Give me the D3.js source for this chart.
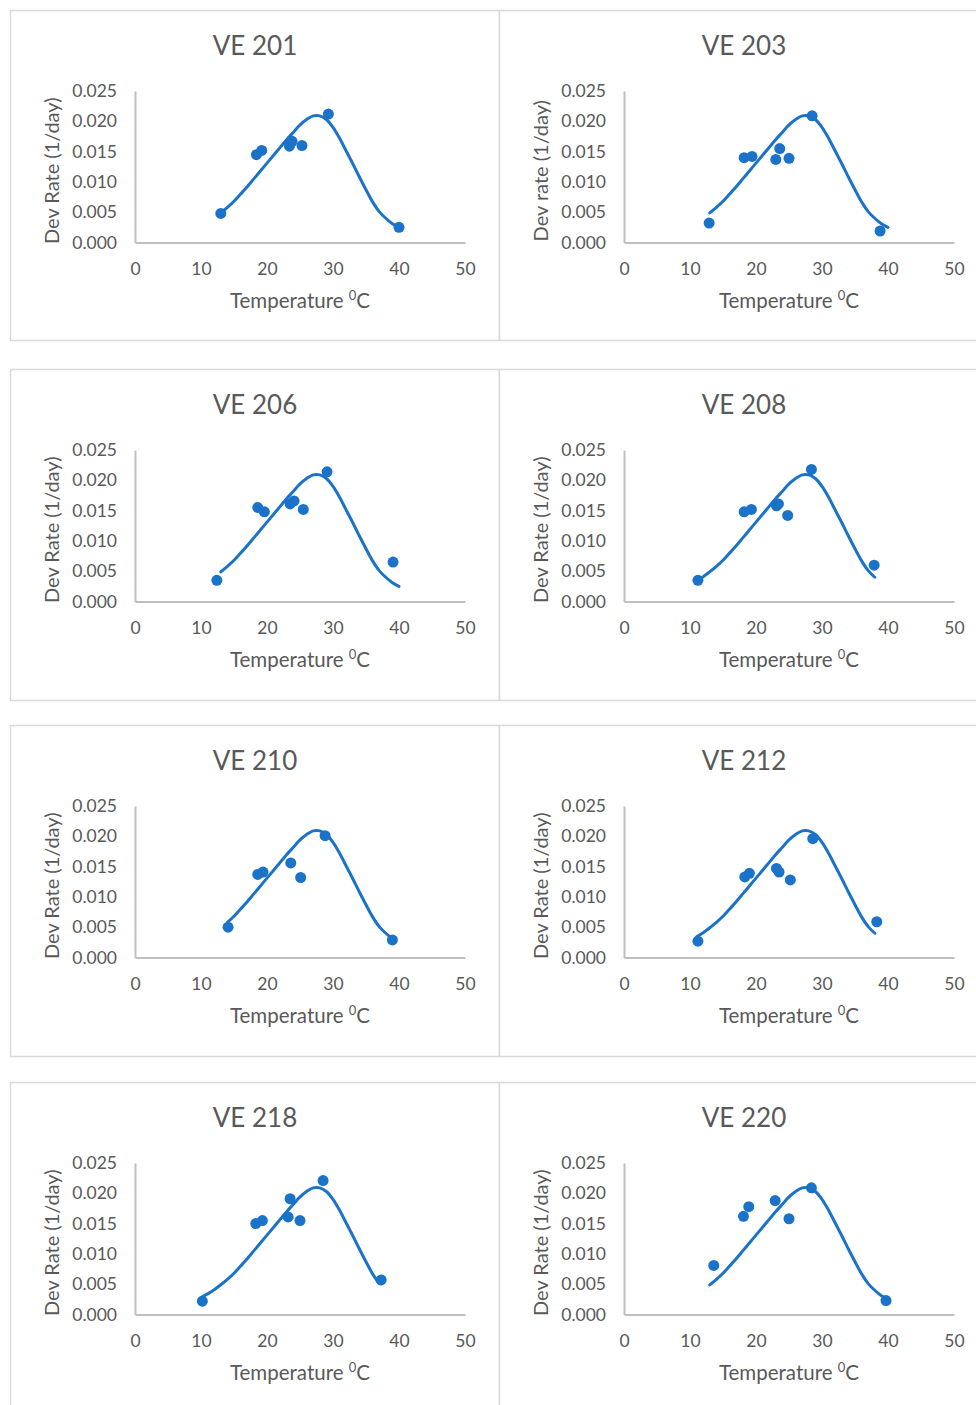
<!DOCTYPE html>
<html>
<head>
<meta charset="utf-8">
<script src="https://cdn.jsdelivr.net/npm/d3@7"></script>
<style>
  html, body { margin: 0; padding: 0; background: #ffffff; }
  svg { display: block; }
  text { font-family: Lato, "Open Sans", sans-serif; fill: #595959; }
</style>
</head>
<body>
<svg id="chart" width="976" height="1405"></svg>
<script>
// ---------------- data ----------------
const panelTitles = ["VE 201", "VE 203", "VE 206", "VE 208", "VE 210", "VE 212", "VE 218", "VE 220"];
const yTitles = ["Dev Rate (1/day)", "Dev rate (1/day)", "Dev Rate (1/day)", "Dev Rate (1/day)",
                 "Dev Rate (1/day)", "Dev Rate (1/day)", "Dev Rate (1/day)", "Dev Rate (1/day)"];
const xTitle = "Temperature ";
const xTitleSup = "0";
const xTitleUnit = "C";
const xTicks = [0, 10, 20, 30, 40, 50];
const yTicks = [0, 0.005, 0.010, 0.015, 0.020, 0.025];

// observed temperatures (°C) per panel
const obsTemp = [
  [13.0, 18.4, 19.2, 23.4, 23.8, 25.3, 29.3, 40.0],
  [12.9, 18.2, 19.4, 23.0, 23.6, 25.0, 28.5, 38.8],
  [12.4, 18.6, 19.6, 23.5, 24.1, 25.5, 29.1, 39.1],
  [11.2, 18.2, 19.3, 23.1, 23.4, 24.8, 28.4, 37.9],
  [14.1, 18.6, 19.4, 23.6, 25.1, 28.8, 39.0],
  [11.2, 18.3, 19.0, 23.1, 23.5, 25.2, 28.6, 38.3],
  [10.2, 18.3, 19.3, 23.2, 23.5, 25.0, 28.5, 37.3],
  [13.6, 18.1, 18.9, 22.9, 25.0, 28.4, 39.7]
];
// observed development rates (1/day) per panel
const obsRate = [
  [0.0048, 0.0145, 0.0152, 0.0159, 0.0167, 0.0160, 0.0212, 0.0025],
  [0.0032, 0.0140, 0.0142, 0.0137, 0.0155, 0.0139, 0.0209, 0.0019],
  [0.0035, 0.0155, 0.0148, 0.0161, 0.0166, 0.0152, 0.0214, 0.0065],
  [0.0035, 0.0148, 0.0152, 0.0158, 0.0161, 0.0142, 0.0218, 0.0060],
  [0.0050, 0.0137, 0.0141, 0.0156, 0.0132, 0.0201, 0.0029],
  [0.0027, 0.0133, 0.0139, 0.0147, 0.0141, 0.0128, 0.0196, 0.0059],
  [0.0022, 0.0150, 0.0155, 0.0161, 0.0191, 0.0155, 0.0221, 0.0057],
  [0.0081, 0.0162, 0.0178, 0.0188, 0.0158, 0.0209, 0.0023]
];

// fitted curve
const fitTemp = [10, 11, 12, 13, 14, 15, 16, 17, 18, 19, 20, 21, 22, 23, 24, 25,
                 26, 27, 28, 29, 30, 31, 32, 33, 34, 35, 36, 37, 38, 39, 40];
const fitRate = [0.0028, 0.0034, 0.0041, 0.0049, 0.0058, 0.0068, 0.0080, 0.0092, 0.0105, 0.0118,
                 0.0131, 0.0144, 0.0157, 0.0170, 0.0182, 0.0194, 0.0203, 0.0209, 0.0209, 0.0203,
                 0.0190, 0.0172, 0.0151, 0.0130, 0.0108, 0.0087, 0.0067, 0.0051, 0.0040, 0.0031, 0.0025];
// temperature range drawn for the fitted curve in each panel
const fitRange = [[13, 40], [13, 40], [13, 40], [11, 38], [14, 39], [11, 38], [10, 37], [13, 40]];

// ---------------- layout ----------------
const colX = [10, 499];
const rowY = [10, 369, 725, 1082];
const panelW = 489;
const panelH = [330, 331, 331, 340];
const blue = "#1a73c8";

const svg = d3.select("#chart");

panelTitles.forEach((title, i) => {
  const col = i % 2, row = Math.floor(i / 2);
  const g = svg.append("g").attr("transform", `translate(${colX[col]},${rowY[row]})`);

  g.append("rect")
    .attr("x", 0.5).attr("y", 0.5)
    .attr("width", panelW).attr("height", panelH[row])
    .attr("fill", "#fff").attr("stroke", "#d9d9d9").attr("stroke-width", 1.5);

  const left = 125, right = 455, top = 81, bottom = 232.5;
  const x = d3.scaleLinear().domain([0, 50]).range([left, right]);
  const y = d3.scaleLinear().domain([0, 0.025]).range([bottom, top]);

  // title
  g.append("text")
    .attr("x", panelW / 2 + 0.5).attr("y", 45)
    .attr("text-anchor", "middle")
    .attr("font-size", 26)
    .text(title);

  // axes
  const xAxis = d3.axisBottom(x).tickValues(xTicks).tickSize(0).tickPadding(20).tickFormat(d3.format("d"));
  const yAxis = d3.axisLeft(y).tickValues(yTicks).tickSize(0).tickPadding(18).tickFormat(d3.format(".3f"));

  const gx = g.append("g").attr("transform", `translate(0,${bottom})`).call(xAxis);
  const gy = g.append("g").attr("transform", `translate(${left},0)`).call(yAxis);
  [gx, gy].forEach(a => {
    a.select(".domain").attr("stroke", "#bfbfbf").attr("stroke-width", 2);
    a.selectAll("text").attr("font-size", 17.5).attr("fill", "#595959")
      .style("font-family", 'Lato, "Open Sans", sans-serif');
  });

  // axis titles
  const xt = g.append("text")
    .attr("x", (left + right) / 2).attr("y", bottom + 65)
    .attr("text-anchor", "middle")
    .attr("font-size", 20.5);
  xt.append("tspan").text(xTitle);
  xt.append("tspan").attr("font-size", 13).attr("dy", -8).text(xTitleSup);
  xt.append("tspan").attr("dy", 8).text(xTitleUnit);

  g.append("text")
    .attr("transform", `translate(49,${(top + bottom) / 2 + 4}) rotate(-90)`)
    .attr("text-anchor", "middle")
    .attr("font-size", 20)
    .text(yTitles[i]);

  // fitted curve
  const [t0, t1] = fitRange[i];
  const fit = fitTemp.map((t, k) => [t, fitRate[k]]).filter(d => d[0] >= t0 && d[0] <= t1);
  g.append("path")
    .datum(fit)
    .attr("fill", "none")
    .attr("stroke", blue)
    .attr("stroke-width", 3)
    .attr("stroke-linecap", "round")
    .attr("d", d3.line().x(d => x(d[0])).y(d => y(d[1])).curve(d3.curveCatmullRom.alpha(0.5)));

  // observed points
  const pts = obsTemp[i].map((t, k) => [t, obsRate[i][k]]);
  g.selectAll("circle.obs")
    .data(pts)
    .join("circle")
    .attr("class", "obs")
    .attr("cx", d => x(d[0]))
    .attr("cy", d => y(d[1]))
    .attr("r", 5.5)
    .attr("fill", blue);
});
</script>
</body>
</html>
